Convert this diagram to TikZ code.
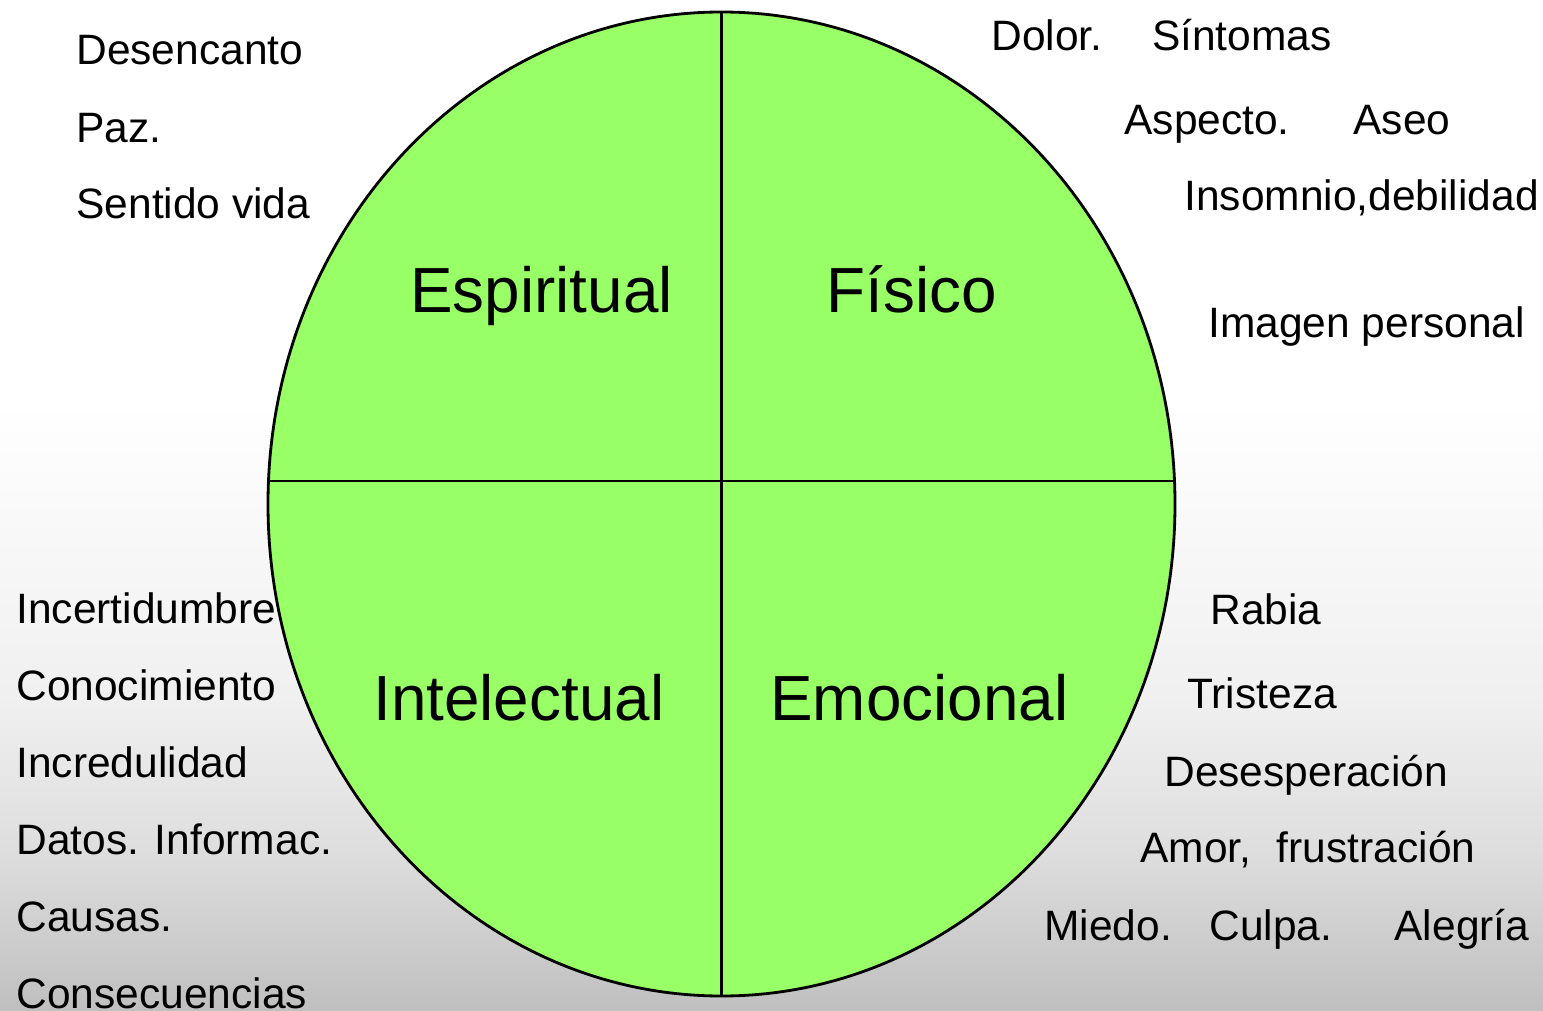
\documentclass[tikz,border=0pt]{standalone}
\usepackage{xcolor}
\usepackage{tikz}
\usetikzlibrary{positioning,calc}
\usepackage{fontspec}
\setmainfont{Liberation Sans}
\definecolor{WheelGreen}{HTML}{99FF66}
\definecolor{Ink}{HTML}{000000}
\pgfdeclareverticalshading{bgfade}{100bp}{color(0bp)=(black!25); color(25bp)=(black!25);
  color(33bp)=(black!13); color(40.4bp)=(black!6); color(47.8bp)=(black!3);
  color(55bp)=(white); color(100bp)=(white)}
\tikzset{
  item/.style={anchor=base west,inner sep=0pt,text=Ink,font=\fontsize{21.25}{25}\selectfont},
  area/.style={anchor=base west,inner sep=0pt,text=Ink,font=\fontsize{31.9}{36}\selectfont}}

\begin{document}
\begin{tikzpicture}[x=0.5pt,y=-0.5pt]
  \useasboundingbox (0,0) rectangle (1543,1011);
  \shade[shading=bgfade] (0,0) rectangle (1543,1011);
  % wheel
  \filldraw[fill=WheelGreen,draw=Ink,line width=1.4pt] (721.5,504) ellipse [x radius=453.5,y radius=492];
  \coordinate (wtop) at (721.5,12);
  \coordinate (wbot) at (721.5,996);
  \coordinate (wlft) at (268.5,481);
  \coordinate (wrgt) at (1174.5,481);
  \draw[Ink,line width=1.2pt] (wtop)--(wbot);
  \draw[Ink,line width=1.2pt] (wlft)--(wrgt);
  % quadrants
  \node[area] (espiritual) at (410,312){Espiritual};
  \node[area] (fisico) at (826,312){Físico};
  \node[area] (intelectual) at (373,720){Intelectual};
  \node[area] (emocional) at (770,720){Emocional};
  % spiritual
  \node[item] (desencanto) at (76,65){Desencanto};
  \node[item] (paz) at (76,142){Paz.};
  \node[item] (sentido) at (76,219){Sentido vida};
  % physical
  \node[item] (dolor) at (991,51){Dolor.\hspace{1.17em}Síntomas};
  \node[item] (aspecto) at (1124,134){Aspecto.\hspace{1.5em}Aseo};
  \node[item] (insomnio) at (1184,211){Insomnio,debilidad};
  \node[item] (imagen) at (1208,337){Imagen personal};
  % intellectual
  \node[item] (incert) at (16,623){Incertidumbre};
  \node[item] (conoc) at (16,700){Conocimiento};
  \node[item] (incred) at (16,777){Incredulidad};
  \node[item] (datos) at (16,854){Datos. Informac.};
  \node[item] (causas) at (16,931){Causas.};
  \node[item] (consec) at (16,1008){Consecuencias};
  % emotional
  \node[item] (rabia) at (1210,624){Rabia};
  \node[item] (tristeza) at (1187,708){Tristeza};
  \node[item] (desesp) at (1164,786){Desesperación};
  \node[item] (amor) at (1140,862){Amor,\hspace{0.6em}frustración};
  \node[item] (miedo) at (1044,940){Miedo.\hspace{0.88em}Culpa.\hspace{1.47em}Alegría};
\end{tikzpicture}
\end{document}
